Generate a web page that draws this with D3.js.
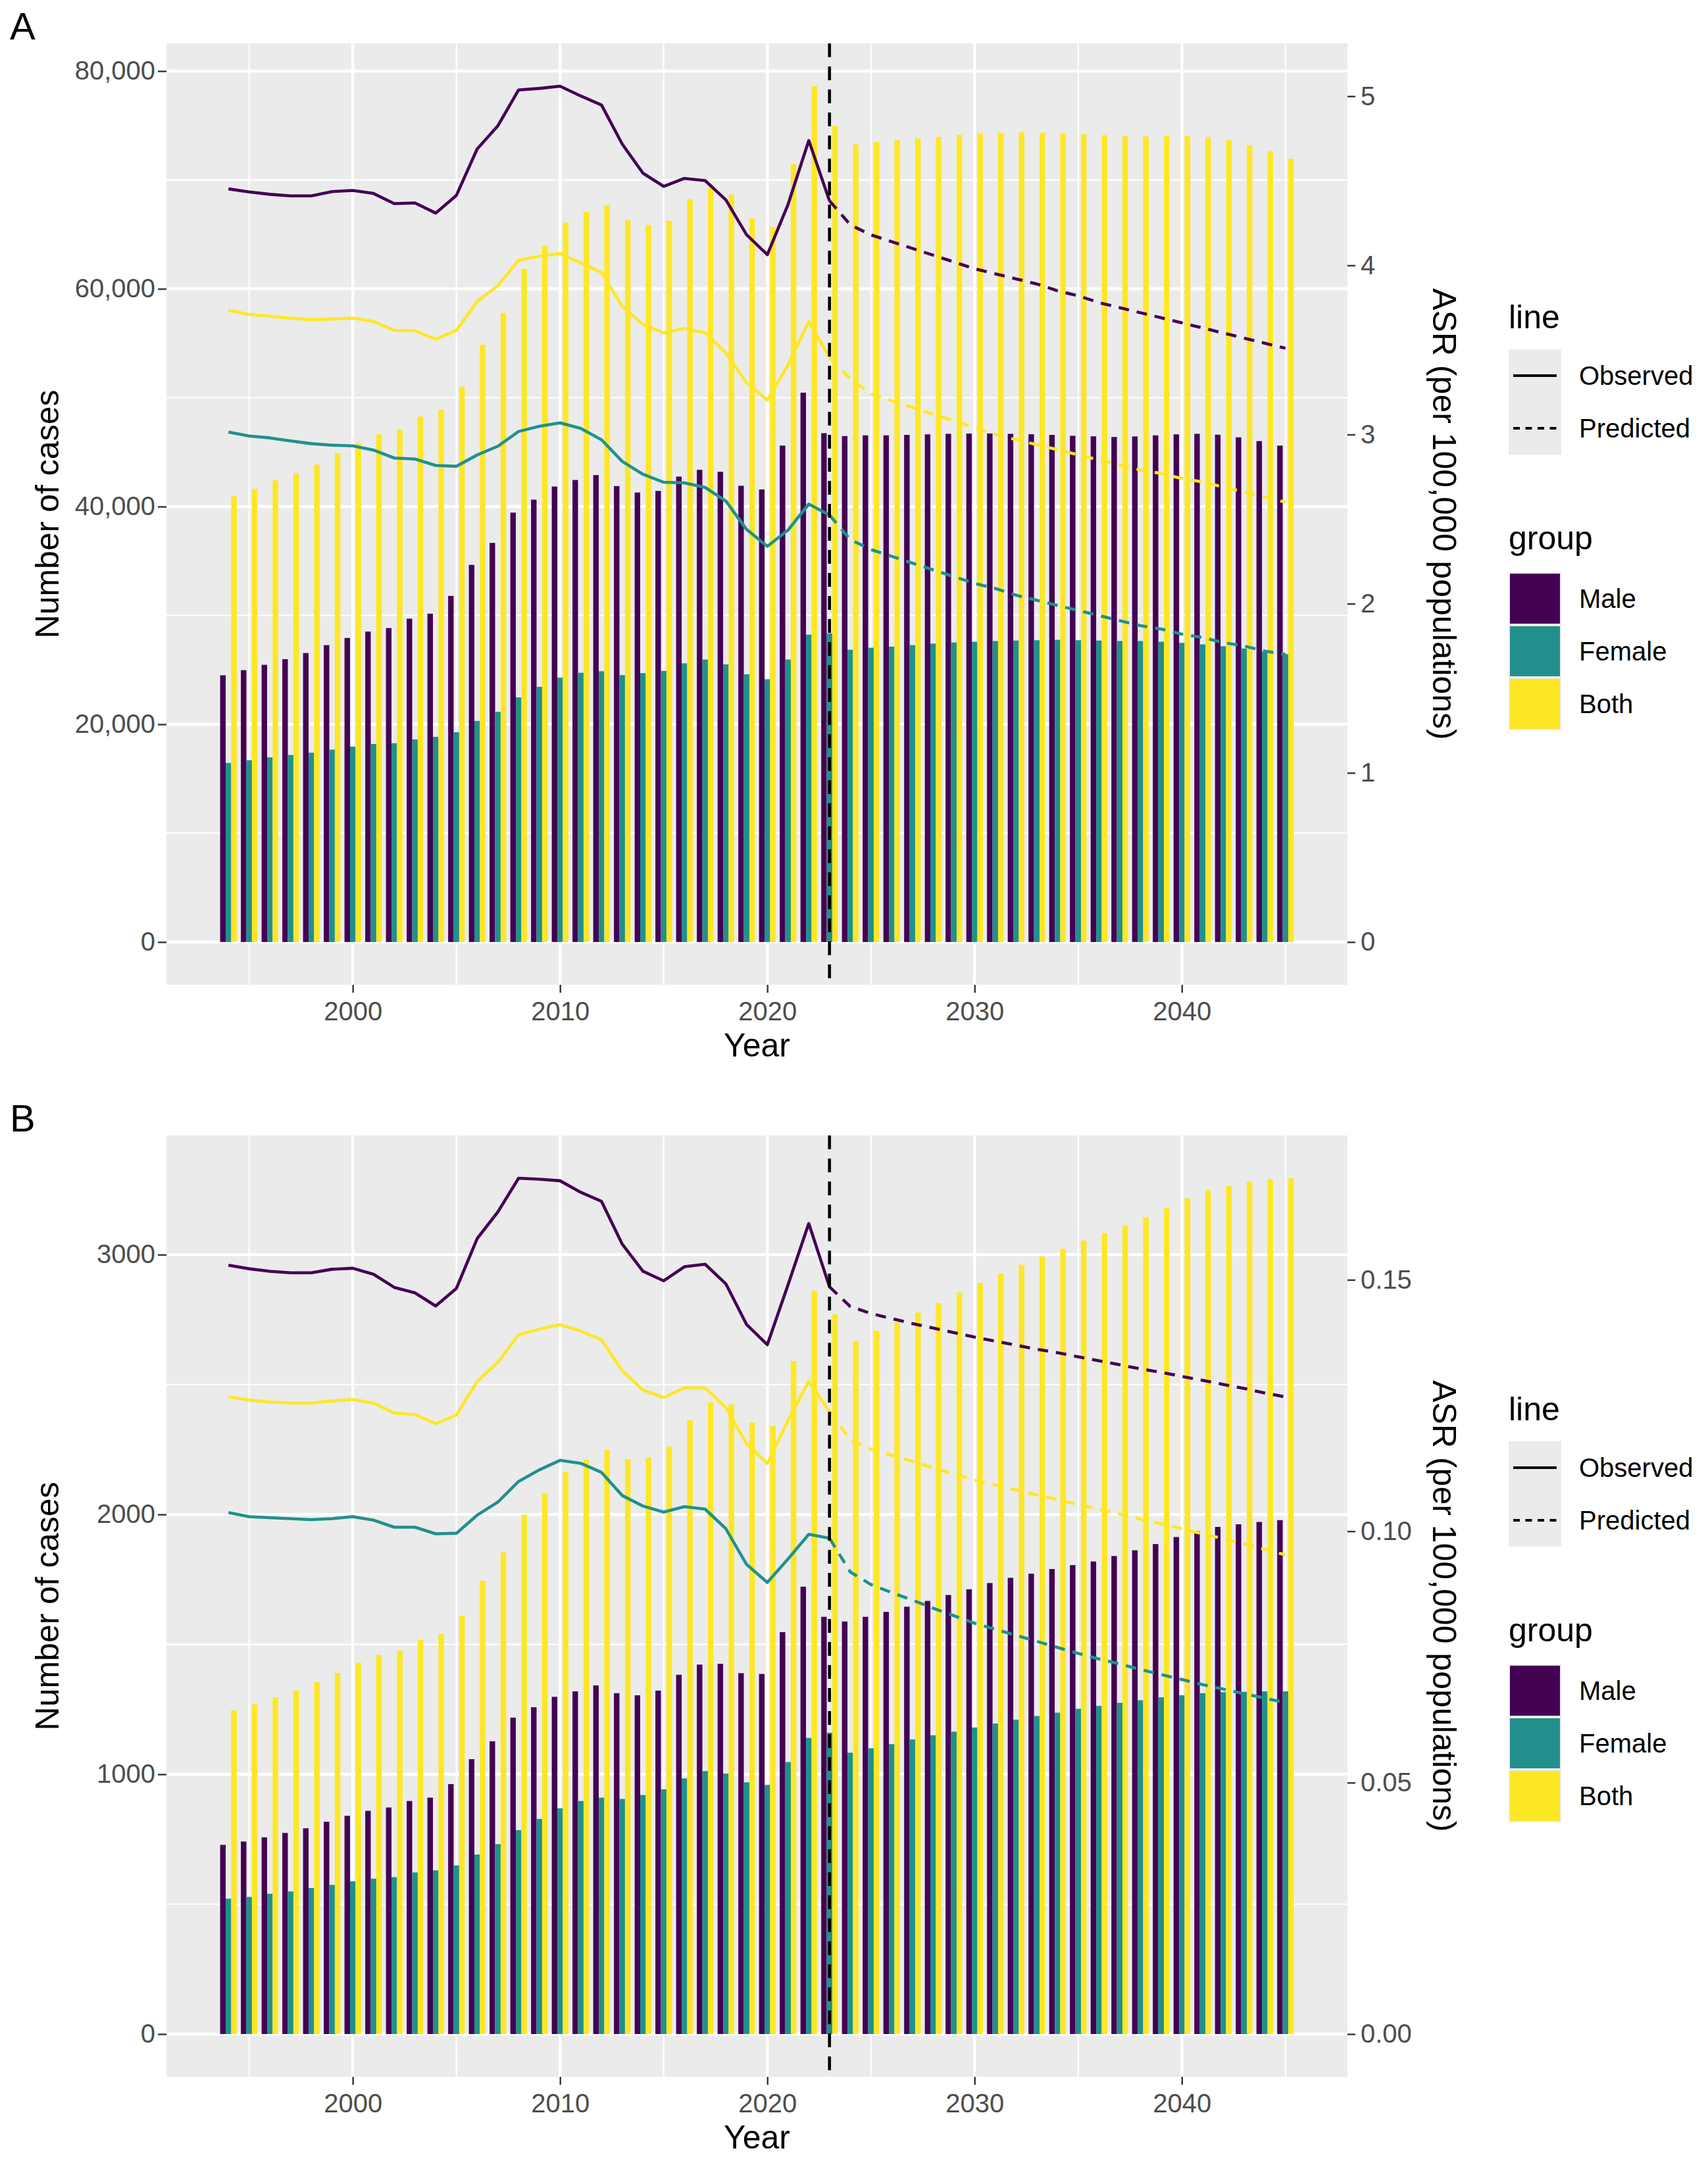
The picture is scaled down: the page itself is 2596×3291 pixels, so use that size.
<!DOCTYPE html>
<html>
<head>
<meta charset="utf-8">
<script src="https://cdn.jsdelivr.net/npm/d3@7"></script>
<style>
  body { margin: 0; background: #fff; }
  text { font-family: "Liberation Sans", Arial, sans-serif; }
</style>
</head>
<body>
<svg id="chart"></svg>
<script>
// ---- data ----
var years = [1994,1995,1996,1997,1998,1999,2000,2001,2002,2003,
             2004,2005,2006,2007,2008,2009,2010,2011,2012,2013,
             2014,2015,2016,2017,2018,2019,2020,2021,2022,2023,
             2024,2025,2026,2027,2028,2029,2030,2031,2032,2033,
             2034,2035,2036,2037,2038,2039,2040,2041,2042,2043,
             2044,2045];
var groups = ["Male", "Female", "Both"];
var groupColors = ["#440154", "#21908C", "#FDE725"];
var lineTypes = ["Observed", "Predicted"];
var splitYear = 2023;

// panel A
var aMaleCases = [24500,24970,25460,25980,26540,27270,27930,28520,28840,29700,
                  30160,31790,34640,36660,39440,40630,41840,42440,42890,41880,
                  41290,41430,42750,43370,43200,41910,41570,45600,50460,46740,
                  46470,46540,46540,46580,46630,46680,46710,46710,46680,46640,
                  46580,46500,46450,46390,46440,46540,46630,46680,46600,46360,
                  46010,45600];
var aFemaleCases = [16450,16700,16970,17180,17390,17670,17950,18190,18260,18610,
                    18850,19270,20310,21150,22470,23440,24280,24730,24870,24520,
                    24700,24900,25600,25950,25500,24590,24140,25950,28240,28350,
                    26850,27030,27130,27270,27410,27510,27580,27650,27690,27720,
                    27760,27720,27690,27650,27650,27580,27480,27340,27170,26960,
                    26680,26440];
var aBothCases = [40940,41630,42400,43090,43850,44900,45830,46630,47050,48260,
                  48920,51010,54860,57780,61840,63960,66080,67080,67710,66290,
                  65870,66250,68230,69240,68650,66490,65690,71460,78610,74970,
                  73260,73470,73650,73820,73960,74130,74270,74340,74380,74340,
                  74270,74200,74100,74030,73990,74030,74030,73960,73680,73190,
                  72640,71940];
var aMaleASR = [4.452,4.434,4.420,4.411,4.411,4.436,4.443,4.425,4.365,4.369,
                4.309,4.414,4.688,4.825,5.037,5.046,5.059,5.001,4.948,4.717,
                4.545,4.467,4.514,4.501,4.387,4.181,4.063,4.360,4.738,4.382,
                4.24,4.18,4.14,4.10,4.06,4.02,3.98,3.95,3.92,3.89,
                3.85,3.82,3.78,3.75,3.72,3.69,3.66,3.63,3.60,3.57,
                3.54,3.51];
var aFemaleASR = [3.015,2.991,2.980,2.962,2.946,2.937,2.933,2.908,2.861,2.855,
                  2.817,2.812,2.879,2.931,3.018,3.049,3.069,3.036,2.969,2.841,
                  2.765,2.718,2.714,2.687,2.607,2.439,2.339,2.435,2.589,2.524,
                  2.38,2.32,2.28,2.24,2.20,2.16,2.12,2.09,2.05,2.02,
                  1.99,1.96,1.93,1.90,1.87,1.85,1.82,1.80,1.77,1.75,
                  1.72,1.70];
var aBothASR = [3.735,3.710,3.699,3.688,3.679,3.683,3.688,3.668,3.616,3.614,
                3.563,3.616,3.786,3.880,4.030,4.054,4.070,4.014,3.958,3.757,
                3.650,3.601,3.627,3.601,3.482,3.306,3.203,3.411,3.668,3.455,
                3.33,3.24,3.20,3.16,3.12,3.08,3.04,3.00,2.97,2.94,
                2.91,2.88,2.85,2.82,2.79,2.77,2.74,2.72,2.69,2.66,
                2.63,2.60];

// panel B
var bMaleCases = [728,741,757,774,792,817,840,859,872,897,
                  910,962,1058,1127,1218,1258,1298,1319,1342,1312,
                  1304,1322,1383,1422,1425,1389,1386,1547,1722,1606,
                  1588,1606,1625,1645,1667,1690,1712,1736,1756,1772,
                  1790,1805,1819,1840,1862,1886,1913,1936,1952,1962,
                  1971,1978];
var bFemaleCases = [521,528,540,549,562,574,588,598,604,622,
                    630,649,691,731,785,828,869,897,910,905,
                    920,942,984,1012,1003,969,959,1047,1140,1160,
                    1083,1100,1116,1134,1150,1164,1180,1195,1210,1224,
                    1237,1252,1263,1275,1285,1296,1304,1312,1316,1317,
                    1319,1319];
var bBothCases = [1246,1269,1296,1323,1354,1390,1429,1459,1476,1517,
                  1541,1610,1745,1854,1999,2082,2163,2211,2249,2213,
                  2220,2262,2364,2431,2424,2354,2340,2590,2860,2770,
                  2668,2707,2741,2777,2813,2854,2891,2927,2961,2993,
                  3023,3054,3083,3112,3144,3179,3217,3248,3265,3280,
                  3290,3294];
var bMaleASR = [.1529,.1522,.1517,.1514,.1514,.1521,.1523,.1511,.1485,.1474,
                .1448,.1483,.1582,.1635,.1702,.1700,.1697,.1674,.1656,.1571,
                .1517,.1498,.1526,.1531,.1492,.1411,.1371,.1490,.1612,.1486,
                .1447,.1433,.1423,.1413,.1404,.1395,.1386,.1378,.1370,.1362,
                .1355,.1347,.1339,.1331,.1323,.1316,.1308,.1300,.1292,.1284,
                .1275,.1267];
var bFemaleASR = [.1037,.1029,.1027,.1025,.1023,.1025,.1029,.1022,.1008,.1008,
                  .0995,.0996,.1032,.1058,.1099,.1122,.1141,.1135,.1117,.1071,
                  .1050,.1038,.1049,.1044,.1005,.0934,.0898,.0945,.0994,.0986,
                  .0919,.0894,.0878,.0863,.0847,.0832,.0817,.0805,.0793,.0781,
                  .0769,.0757,.0746,.0736,.0725,.0715,.0705,.0695,.0686,.0677,
                  .0668,.0659];
var bBothASR = [.1267,.1261,.1257,.1255,.1255,.1259,.1262,.1255,.1235,.1232,
                .1214,.1231,.1298,.1336,.1391,.1402,.1411,.1398,.1381,.1319,
                .1281,.1266,.1285,.1285,.1246,.1174,.1135,.1220,.1298,.1238,
                .1182,.1163,.1151,.1139,.1126,.1114,.1102,.1092,.1082,.1072,
                .1063,.1053,.1044,.1034,.1024,.1015,.1005,.0995,.0985,.0975,
                .0964,.0953];

var xMajor = [2000, 2010, 2020, 2030, 2040];
var xMinor = [1995, 2005, 2015, 2025, 2035, 2045];
var aLeftTicks = [0, 20000, 40000, 60000, 80000];
var aLeftMinor = [10000, 30000, 50000, 70000];
var aRightTicks = [0, 1, 2, 3, 4, 5];
var bLeftTicks = [0, 1000, 2000, 3000];
var bLeftMinor = [500, 1500, 2500];
var bRightTicks = [0, 0.05, 0.10, 0.15];

// ---- layout ----
var W = 2596, H = 3291;
var plotLeft = 253, plotRight = 2048;
var barW = 0.8;

var panels = [
  { tag: "A", top: 66, bottom: 1497,
    cases: [aMaleCases, aFemaleCases, aBothCases],
    asr: [aMaleASR, aFemaleASR, aBothASR],
    leftTicks: aLeftTicks, leftMinor: aLeftMinor, leftFormat: d3.format(","),
    rightTicks: aRightTicks, rightFormat: d3.format("d") },
  { tag: "B", top: 1726, bottom: 3157,
    cases: [bMaleCases, bFemaleCases, bBothCases],
    asr: [bMaleASR, bFemaleASR, bBothASR],
    leftTicks: bLeftTicks, leftMinor: bLeftMinor, leftFormat: d3.format("d"),
    rightTicks: bRightTicks, rightFormat: d3.format(".2f") }
];

var svg = d3.select("#chart").attr("width", W).attr("height", H);
svg.append("rect").attr("width", W).attr("height", H).attr("fill", "#fff");

var xLo = years[0] - barW / 2, xHi = years[years.length - 1] + barW / 2;
var xPad = 0.05 * (xHi - xLo);
var x = d3.scaleLinear().domain([xLo - xPad, xHi + xPad]).range([plotLeft, plotRight]);

panels.forEach(drawPanel);

function drawPanel(p) {
  var g = svg.append("g");
  var maxC = d3.max(p.cases, function(s) { return d3.max(s); });
  var maxA = d3.max(p.asr, function(s) { return d3.max(s); });
  var k = maxC / maxA;   // secondary axis factor
  var y = d3.scaleLinear().domain([-0.05 * maxC, 1.05 * maxC]).range([p.bottom, p.top]);
  var yR = d3.scaleLinear().domain(y.domain().map(function(v) { return v / k; })).range([p.bottom, p.top]);

  // panel background + grid
  g.append("rect").attr("x", plotLeft).attr("y", p.top)
    .attr("width", plotRight - plotLeft).attr("height", p.bottom - p.top)
    .attr("fill", "#EBEBEB");

  g.selectAll(".hminor").data(p.leftMinor).enter().append("line")
    .attr("x1", plotLeft).attr("x2", plotRight)
    .attr("y1", function(d) { return y(d); }).attr("y2", function(d) { return y(d); })
    .attr("stroke", "#fff").attr("stroke-width", 2.2);
  g.selectAll(".vminor").data(xMinor).enter().append("line")
    .attr("y1", p.top).attr("y2", p.bottom)
    .attr("x1", function(d) { return x(d); }).attr("x2", function(d) { return x(d); })
    .attr("stroke", "#fff").attr("stroke-width", 2.2);
  g.selectAll(".hmajor").data(p.leftTicks).enter().append("line")
    .attr("x1", plotLeft).attr("x2", plotRight)
    .attr("y1", function(d) { return y(d); }).attr("y2", function(d) { return y(d); })
    .attr("stroke", "#fff").attr("stroke-width", 4.4);
  g.selectAll(".vmajor").data(xMajor).enter().append("line")
    .attr("y1", p.top).attr("y2", p.bottom)
    .attr("x1", function(d) { return x(d); }).attr("x2", function(d) { return x(d); })
    .attr("stroke", "#fff").attr("stroke-width", 4.4);

  // bars, dodged
  var sub = barW / groups.length;
  groups.forEach(function(grp, gi) {
    var rows = years.map(function(yr, i) { return { yr: yr, v: p.cases[gi][i] }; });
    g.selectAll(".bar" + gi).data(rows).enter().append("rect")
      .attr("x", function(d) { return x(d.yr - barW / 2 + gi * sub); })
      .attr("width", x(sub) - x(0))
      .attr("y", function(d) { return y(d.v); })
      .attr("height", function(d) { return y(0) - y(d.v); })
      .attr("fill", groupColors[gi]);
  });

  // ASR lines
  var line = d3.line()
    .x(function(d) { return x(d.yr); })
    .y(function(d) { return yR(d.v); });
  groups.forEach(function(grp, gi) {
    var rows = years.map(function(yr, i) { return { yr: yr, v: p.asr[gi][i] }; });
    g.append("path")
      .datum(rows.filter(function(d) { return d.yr <= splitYear; }))
      .attr("d", line).attr("fill", "none")
      .attr("stroke", groupColors[gi]).attr("stroke-width", 4.6)
      .attr("stroke-linejoin", "round");
    g.append("path")
      .datum(rows.filter(function(d) { return d.yr >= splitYear; }))
      .attr("d", line).attr("fill", "none")
      .attr("stroke", groupColors[gi]).attr("stroke-width", 4.6)
      .attr("stroke-dasharray", "16,12");
  });

  // split marker
  g.append("line")
    .attr("x1", x(splitYear)).attr("x2", x(splitYear))
    .attr("y1", p.top).attr("y2", p.bottom)
    .attr("stroke", "#000").attr("stroke-width", 4.6)
    .attr("stroke-dasharray", "21,14");

  // axes
  var axL = g.append("g").attr("transform", "translate(" + plotLeft + ",0)")
    .call(d3.axisLeft(y).tickValues(p.leftTicks).tickFormat(p.leftFormat).tickSize(13).tickPadding(4));
  var axR = g.append("g").attr("transform", "translate(" + plotRight + ",0)")
    .call(d3.axisRight(yR).tickValues(p.rightTicks).tickFormat(p.rightFormat).tickSize(12).tickPadding(8));
  var axB = g.append("g").attr("transform", "translate(0," + p.bottom + ")")
    .call(d3.axisBottom(x).tickValues(xMajor).tickFormat(d3.format("d")).tickSize(12).tickPadding(14));
  [axL, axR, axB].forEach(function(ax) {
    ax.select(".domain").remove();
    ax.selectAll(".tick line").attr("stroke", "#333").attr("stroke-width", 2.4);
    ax.selectAll(".tick text").attr("fill", "#4D4D4D").style("font-size", "40px");
  });

  // titles
  g.append("text").attr("x", 15).attr("y", p.top - 6)
    .style("font-size", "58px").attr("fill", "#000").text(p.tag);
  g.append("text").attr("x", (plotLeft + plotRight) / 2).attr("y", p.bottom + 109)
    .attr("text-anchor", "middle").style("font-size", "50px").attr("fill", "#000").text("Year");
  var midY = (p.top + p.bottom) / 2;
  g.append("text").attr("transform", "translate(89," + midY + ") rotate(-90)")
    .attr("text-anchor", "middle").style("font-size", "50px").attr("fill", "#000")
    .text("Number of cases");
  g.append("text").attr("transform", "translate(2178," + midY + ") rotate(90)")
    .attr("text-anchor", "middle").style("font-size", "50px").attr("fill", "#000")
    .text("ASR (per 100,000 populations)");

  // legend: line type
  var lgX = 2293;
  var lg = g.append("g");
  lg.append("text").attr("x", lgX).attr("y", p.top + 433)
    .style("font-size", "50px").attr("fill", "#000").text("line");
  lg.append("rect").attr("x", lgX).attr("y", p.top + 465)
    .attr("width", 80).attr("height", 160).attr("fill", "#EBEBEB");
  lineTypes.forEach(function(lt, i) {
    var cy = p.top + 505 + i * 80;
    lg.append("line").attr("x1", lgX + 7).attr("x2", lgX + 73)
      .attr("y1", cy).attr("y2", cy)
      .attr("stroke", "#000").attr("stroke-width", 4.2)
      .attr("stroke-dasharray", i === 0 ? null : "10,8.5");
    lg.append("text").attr("x", lgX + 107).attr("y", cy + 14)
      .style("font-size", "40px").attr("fill", "#000").text(lt);
  });

  // legend: group
  lg.append("text").attr("x", lgX).attr("y", p.top + 769)
    .style("font-size", "50px").attr("fill", "#000").text("group");
  groups.forEach(function(grp, gi) {
    var ky = p.top + 804 + gi * 80;
    lg.append("rect").attr("x", lgX).attr("y", ky)
      .attr("width", 80).attr("height", 80).attr("fill", "#EBEBEB");
    lg.append("rect").attr("x", lgX + 2).attr("y", ky + 2)
      .attr("width", 76).attr("height", 76).attr("fill", groupColors[gi]);
    lg.append("text").attr("x", lgX + 107).attr("y", ky + 54)
      .style("font-size", "40px").attr("fill", "#000").text(grp);
  });
}
</script>
</body>
</html>
